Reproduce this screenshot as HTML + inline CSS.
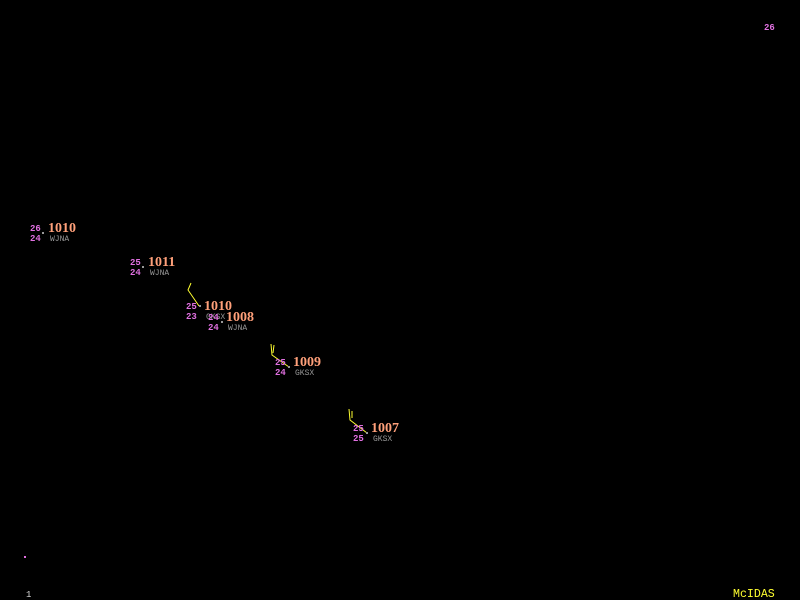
<!DOCTYPE html>
<html><head><meta charset="utf-8"><style>
html,body{margin:0;padding:0;background:#000;width:800px;height:600px;overflow:hidden}
svg{display:block}
.t{fill:#e070e0;font-family:"Liberation Mono",monospace;font-size:9px;font-weight:bold}
.p{fill:#ffa07a;font-family:"Liberation Serif",serif;font-size:14px;font-weight:bold}
.i{fill:#999;font-family:"Liberation Mono",monospace;font-size:8px}
.w{stroke:#ffff30;stroke-width:1;fill:none}
</style></head><body>
<svg width="800" height="600" xmlns="http://www.w3.org/2000/svg">
<rect width="800" height="600" fill="#000"/>
<text class="t" x="30" y="231">26</text><text class="t" x="30" y="241">24</text>
<text class="p" x="48" y="232">1010</text><text class="i" x="50" y="241">WJNA</text>
<rect x="42" y="232" width="2" height="2" fill="#999"/>
<text class="t" x="130" y="265">25</text><text class="t" x="130" y="275">24</text>
<text class="p" x="148" y="266">1011</text><text class="i" x="150" y="275">WJNA</text>
<rect x="142" y="266" width="2" height="2" fill="#999"/>
<polyline class="w" points="199,306 188,290 191,283"/>
<text class="t" x="186" y="309">25</text><text class="t" x="186" y="319">23</text>
<text class="p" x="204" y="310">1010</text><text class="i" x="206" y="319">GKSX</text>
<rect x="199" y="305" width="2" height="2" fill="#999"/>
<text class="t" x="208" y="320">24</text><text class="t" x="208" y="330">24</text>
<text class="p" x="226" y="321">1008</text><text class="i" x="228" y="330">WJNA</text>
<rect x="221" y="321" width="2" height="2" fill="#999"/>
<polyline class="w" points="289,367 272,355 271,344"/>
<line class="w" x1="273" y1="353" x2="274" y2="345"/>
<text class="t" x="275" y="365">25</text><text class="t" x="275" y="375">24</text>
<text class="p" x="293" y="366">1009</text><text class="i" x="295" y="375">GKSX</text>
<rect x="288" y="366" width="2" height="2" fill="#999"/>
<polyline class="w" points="367,433 350,420 349,409"/>
<line class="w" x1="352" y1="418" x2="352" y2="411"/>
<text class="t" x="353" y="431">25</text><text class="t" x="353" y="441">25</text>
<text class="p" x="371" y="432">1007</text><text class="i" x="373" y="441">GKSX</text>
<rect x="366" y="432" width="2" height="2" fill="#999"/>
<text class="t" x="764" y="30">26</text>
<rect x="24" y="556" width="2" height="2" fill="#e070e0"/>
<text x="26" y="597" fill="#ddd" font-family="Liberation Mono,monospace" font-size="9">1</text>
<text x="733" y="597" fill="#ffff30" font-family="Liberation Mono,monospace" font-size="11.6">McIDAS</text>
</svg>
</body></html>
